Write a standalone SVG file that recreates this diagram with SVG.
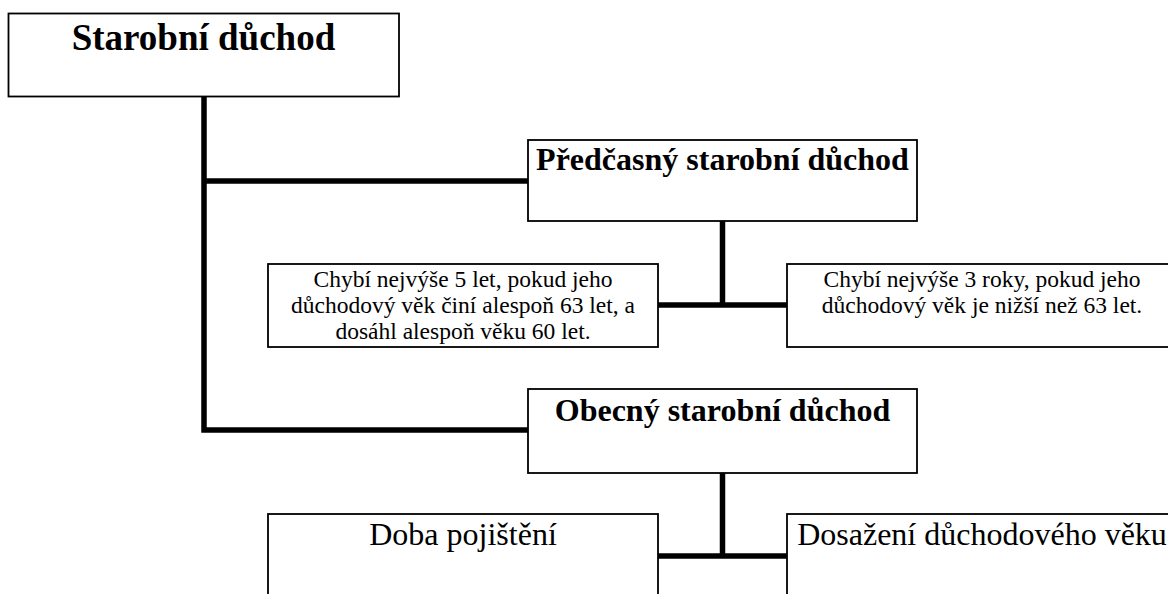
<svg xmlns="http://www.w3.org/2000/svg" width="1168" height="594" viewBox="0 0 1168 594">
<style>
.box{fill:#fff;stroke:#000;stroke-width:1.8}
.con{fill:none;stroke:#000;stroke-width:5.5;stroke-linejoin:miter;stroke-linecap:butt}
.t{font-family:"Liberation Serif","Times New Roman",serif;fill:#000;text-anchor:middle}
.b{font-weight:bold}
.h1{font-size:37px}
.h2{font-size:32px}
.s{font-size:23.5px}
</style>
<rect width="1168" height="594" fill="#fff"/>
<g id="connectors">
<path class="con" d="M204,96 V430 H528"/>
<path class="con" d="M204,181 H528"/>
<path class="con" d="M722.5,221 V305"/>
<path class="con" d="M658,305 H787"/>
<path class="con" d="M722.5,473 V556"/>
<path class="con" d="M658,556 H787"/>
</g>
<g id="n-starobni">
<rect class="box" x="8.5" y="13.5" width="390.5" height="83"/>
<text class="t b h1" x="203.5" y="50">Starobní důchod</text>
</g>
<g id="n-predcasny">
<rect class="box" x="528" y="140" width="389" height="81"/>
<text class="t b h2" x="722.5" y="170">Předčasný starobní důchod</text>
</g>
<g id="n-chybi5">
<rect class="box" x="268" y="264" width="390" height="83"/>
<text class="t s" x="463" y="287">Chybí nejvýše 5 let, pokud jeho</text>
<text class="t s" x="463" y="313">důchodový věk činí alespoň 63 let, a</text>
<text class="t s" x="463" y="339">dosáhl alespoň věku 60 let.</text>
</g>
<g id="n-chybi3">
<rect class="box" x="787" y="264" width="390" height="83"/>
<text class="t s" x="982" y="287">Chybí nejvýše 3 roky, pokud jeho</text>
<text class="t s" x="982" y="313">důchodový věk je nižší než 63 let.</text>
</g>
<g id="n-obecny">
<rect class="box" x="528" y="389" width="389" height="84"/>
<text class="t b h2" x="722.5" y="421">Obecný starobní důchod</text>
</g>
<g id="n-doba">
<rect class="box" x="268" y="514" width="390" height="100"/>
<text class="t h2" x="463" y="545">Doba pojištění</text>
</g>
<g id="n-dosazeni">
<rect class="box" x="787" y="514" width="390" height="100"/>
<text class="t h2" x="982" y="545">Dosažení důchodového věku</text>
</g>
</svg>
